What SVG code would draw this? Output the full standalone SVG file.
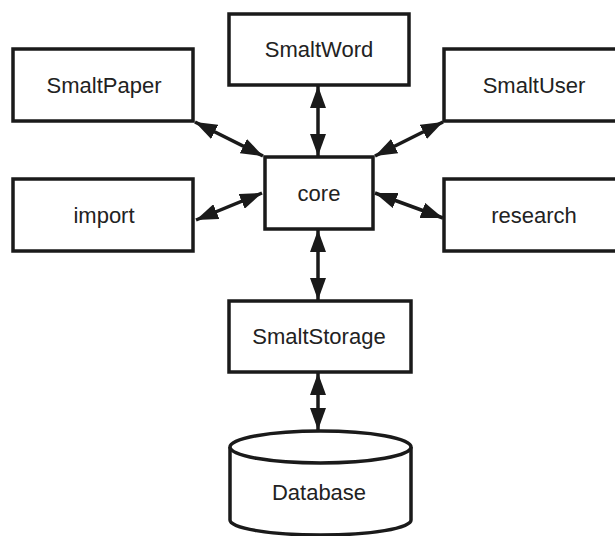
<svg xmlns="http://www.w3.org/2000/svg" width="615" height="536" viewBox="0 0 615 536">
<style>
.box{fill:#fff;stroke:#1a1a1a;stroke-width:3.5}
.lbl{font-family:"Liberation Sans",Arial,sans-serif;font-size:22px;fill:#222;text-anchor:middle}
.edge{stroke:#1a1a1a;stroke-width:3.5;fill:none;marker-start:url(#ah);marker-end:url(#ah)}
</style>
<defs>
<marker id="ah" markerUnits="userSpaceOnUse" markerWidth="22" markerHeight="16" refX="22" refY="8" orient="auto-start-reverse" viewBox="0 0 22 16">
<path d="M0,0 L22,8 L0,16 z" fill="#1a1a1a"/>
</marker>
</defs>
<rect width="615" height="536" fill="#fff"/>
<g id="connectors">
<line class="edge" x1="318" y1="86" x2="318" y2="156"/>
<line class="edge" x1="195" y1="122" x2="263" y2="156"/>
<line class="edge" x1="196" y1="220" x2="262" y2="193"/>
<line class="edge" x1="375" y1="156" x2="443" y2="122"/>
<line class="edge" x1="375" y1="193" x2="443" y2="218"/>
<line class="edge" x1="318" y1="230" x2="318" y2="300"/>
<line class="edge" x1="318" y1="373" x2="318" y2="430"/>
</g>
<g id="SmaltWord">
<rect class="box" x="229" y="14" width="180" height="71"/>
<text class="lbl" x="319" y="57">SmaltWord</text>
</g>
<g id="SmaltPaper">
<rect class="box" x="13" y="49" width="180" height="72"/>
<text class="lbl" x="104" y="93">SmaltPaper</text>
</g>
<g id="SmaltUser">
<rect class="box" x="444" y="49" width="180" height="72"/>
<text class="lbl" x="534" y="93">SmaltUser</text>
</g>
<g id="core">
<rect class="box" x="265" y="157" width="108" height="72"/>
<text class="lbl" x="319" y="201">core</text>
</g>
<g id="import">
<rect class="box" x="13" y="179" width="180" height="72"/>
<text class="lbl" x="104" y="223">import</text>
</g>
<g id="research">
<rect class="box" x="444" y="179" width="180" height="72"/>
<text class="lbl" x="534" y="223">research</text>
</g>
<g id="SmaltStorage">
<rect class="box" x="229" y="301" width="182" height="71"/>
<text class="lbl" x="319" y="344">SmaltStorage</text>
</g>
<g id="Database">
<path class="box" d="M230,447 L230,520 A90.5,15 0 0 0 411,520 L411,447"/>
<ellipse class="box" cx="320.5" cy="447" rx="90.5" ry="16"/>
<text class="lbl" x="319" y="500">Database</text>
</g>
</svg>
